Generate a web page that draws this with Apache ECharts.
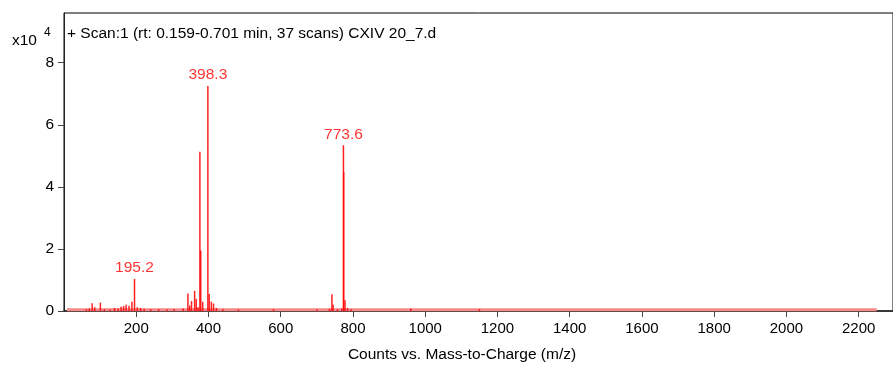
<!DOCTYPE html>
<html><head><meta charset="utf-8">
<script src="https://cdn.jsdelivr.net/npm/echarts@6/dist/echarts.min.js"></script>
<style>html,body{margin:0;padding:0;background:#fff}#c{width:893px;height:371px}</style>
</head><body><div id="c"></div>
<script>
// m/z of peaks and intensities (x10^4 counts)
const peakMz = [62, 70, 78, 85, 100.7, 112, 128, 140, 150, 158, 165, 172, 180, 188, 195.2, 203, 212, 222, 240, 262, 285, 305, 330, 343, 348, 353, 361.6, 366, 371, 376.2, 378.5, 384, 398.3, 402, 408, 414, 422, 440, 483, 580, 700, 735, 741.7, 745, 757, 769, 773.6, 774.3, 778, 785, 795, 960, 1150];
const peakInt = [0.06, 0.08, 0.25, 0.12, 0.27, 0.06, 0.05, 0.1, 0.08, 0.14, 0.16, 0.2, 0.17, 0.3, 1.03, 0.12, 0.1, 0.07, 0.06, 0.06, 0.05, 0.06, 0.08, 0.56, 0.18, 0.32, 0.65, 0.39, 0.12, 5.13, 1.95, 0.3, 7.25, 0.55, 0.3, 0.24, 0.1, 0.06, 0.05, 0.06, 0.05, 0.07, 0.54, 0.2, 0.06, 0.08, 5.34, 4.48, 0.35, 0.1, 0.06, 0.08, 0.06];
// baseline noise range
const noiseMz = [8, 2250];
const noiseInt = [0.04, 0.04];
// annotated peaks
const labelMz = [195.2, 398.3, 773.6];
const labelInt = [1.03, 7.25, 5.34];
const labelText = ['195.2', '398.3', '773.6'];
// axes
const xMin = 0, xMax = 2295, xInterval = 200;
const yMin = 0, yMax = 9.6, yInterval = 2;

const chart = echarts.init(document.getElementById('c'));
const FONT = 'Liberation Sans, Arial, sans-serif';
chart.setOption({
  animation: false,
  grid: {left: 64, right: -2, top: 13, bottom: 60, show: true, borderColor: '#000', borderWidth: 1},
  graphic: [
    {type: 'text', left: 67, top: 26, style: {text: '+ Scan:1 (rt: 0.159-0.701 min, 37 scans) CXIV 20_7.d', font: '15.5px ' + FONT, fill: '#000'}},
    {type: 'text', left: 12, top: 33, style: {text: 'x10', font: '15.5px ' + FONT, fill: '#000'}},
    {type: 'text', left: 44, top: 27, style: {text: '4', font: '12px ' + FONT, fill: '#000'}},
    {type: 'text', x: 462, y: 355, style: {text: 'Counts vs. Mass-to-Charge (m/z)', font: '15.5px ' + FONT, fill: '#000', align: 'center', verticalAlign: 'middle'}}
  ],
  xAxis: {
    type: 'value', min: xMin, max: xMax, interval: xInterval,
    axisLine: {show: true, onZero: false, lineStyle: {color: '#222', width: 1.5}},
    axisTick: {show: true, length: 6, lineStyle: {color: '#444'}},
    axisLabel: {fontFamily: FONT, fontSize: 15, color: '#000', margin: 10, showMinLabel: false, showMaxLabel: false,
      formatter: v => (v === 0 ? '' : String(v))},
    splitLine: {show: false}
  },
  yAxis: {
    type: 'value', min: yMin, max: yMax, interval: yInterval,
    axisLine: {show: true, lineStyle: {color: '#222'}},
    axisTick: {show: true, length: 6, lineStyle: {color: '#444'}},
    axisLabel: {fontFamily: FONT, fontSize: 15.5, color: '#000', margin: 10, showMaxLabel: false,
      formatter: v => (v > 8.5 ? '' : String(v))},
    splitLine: {show: false}
  },
  series: [
    {type: 'line', data: noiseMz.map((m, i) => [m, noiseInt[i]]), symbol: 'none',
      lineStyle: {color: '#f58a8a', width: 3}, z: 1},
    {type: 'bar', data: peakMz.map((m, i) => [m, peakInt[i]]), barWidth: 1.5, barGap: '-100%',
      itemStyle: {color: 'rgba(255,10,10,0.9)'}, z: 2},
    {type: 'scatter', data: labelMz.map((m, i) => [m, labelInt[i]]), symbolSize: 0,
      label: {show: true, position: 'top', distance: 3, formatter: p => labelText[p.dataIndex],
        fontFamily: FONT, fontSize: 15.5, color: '#ff0000'}, z: 3}
  ]
});
</script></body></html>
